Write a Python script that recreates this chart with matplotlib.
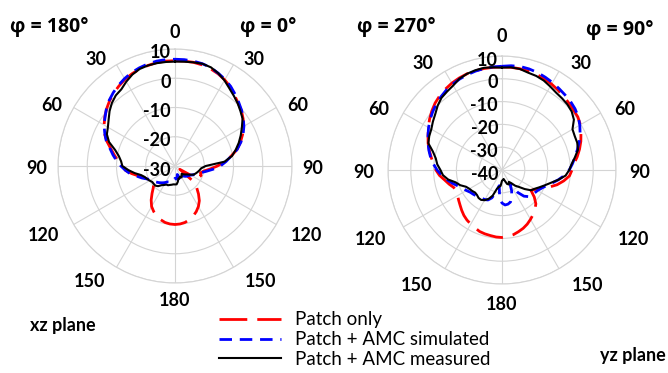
import numpy as np
import matplotlib.pyplot as plt

plt.rcParams['font.family'] = ['Lato', 'DejaVu Sans']

# pattern angle, clockwise from broadside (0-180 on the right, 180-360 on the left)
angles = np.arange(0, 360, 5)

# xz plane, gain in dB (right: phi = 0, left: phi = 180)
xz_patch = [6.0, 6.0, 6.0, 5.8, 5.4, 4.8, 4.0, 3.0, 1.6, 0.5, -0.4, -1.6, -2.8, -4.5,
            -6.2, -8.0, -10.5, -13.0, -15.5, -18.0, -20.0, -21.0, -20.5, -21.0, -22.5,
            -28.0, -22.0, -19.5, -17.5, -15.5, -14.0, -12.8, -11.8, -11.0, -10.4, -10.1,
            -10.0, -10.1, -10.4, -11.0, -11.8, -12.8, -14.0, -15.8, -17.8, -19.5, -20.5,
            -20.5, -20.0, -19.5, -18.5, -17.0, -15.0, -13.0, -12.0, -10.5, -9.0, -7.3,
            -5.2, -3.3, -2.0, -0.7, 0.5, 1.6, 2.6, 3.4, 4.2, 4.8, 5.3, 5.6, 5.9, 6.0]
xz_amc_sim = [6.5, 6.5, 6.4, 6.2, 5.8, 5.0, 4.2, 3.2, 2.0, 0.8, -0.3, -1.5, -2.8, -4.3,
              -6.0, -8.0, -10.5, -12.5, -14.5, -17.0, -19.3, -21.0, -22.0, -23.0, -23.8,
              -24.3, -24.6, -25.0, -25.5, -26.0, -25.5, -24.5, -25.5, -27.0, -26.0, -25.5,
              -25.8, -25.0, -24.5, -24.2, -24.2, -24.0, -23.5, -23.0, -22.5, -22.0, -21.5,
              -21.2, -20.5, -19.5, -18.0, -16.5, -14.5, -13.0, -11.5, -10.0, -8.5, -7.0,
              -5.0, -3.5, -2.0, -0.8, 0.6, 1.8, 2.8, 3.7, 4.5, 5.2, 5.7, 6.1, 6.4, 6.5]
xz_amc_meas = [5.7, 5.8, 6.0, 6.2, 5.9, 5.0, 3.8, 2.4, 1.3, 0.3, -0.8, -1.8, -3.6, -5.2,
               -6.8, -8.5, -10.2, -13.0, -19.5, -21.0, -21.5, -22.0, -22.5, -23.0, -24.0,
               -25.0, -25.5, -26.0, -26.5, -26.0, -25.5, -26.0, -25.5, -25.5, -24.5, -23.7,
               -23.7, -23.7, -23.5, -23.3, -23.0, -23.0, -22.5, -22.0, -21.0, -20.5, -20.5,
               -20.5, -20.0, -19.5, -19.0, -18.0, -16.0, -14.0, -12.0, -11.5, -10.5, -8.8,
               -6.0, -4.3, -3.5, -2.3, -0.8, 0.5, 1.5, 2.0, 3.3, 4.5, 5.3, 5.6, 5.7, 5.7]

# yz plane, gain in dB (right: phi = 90, left: phi = 270)
yz_patch = [5.2, 5.2, 5.1, 4.9, 4.6, 4.1, 3.5, 2.8, 2.1, 1.5, 0.9, 0.6, -0.3, -1.8,
            -3.2, -4.8, -6.5, -8.3, -9.3, -10.3, -12.5, -15.0, -18.0, -21.0, -23.0,
            -24.5, -21.5, -19.0, -17.5, -16.2, -15.0, -13.8, -12.8, -12.0, -11.2, -10.7,
            -10.4, -10.5, -10.8, -11.0, -11.3, -12.0, -12.6, -13.2, -14.0, -15.0, -16.0,
            -16.8, -17.5, -18.0, -17.5, -16.0, -14.5, -12.5, -11.0, -9.8, -8.5, -7.0,
            -5.5, -4.2, -2.7, -1.2, 0.2, 1.5, 2.5, 3.3, 4.0, 4.5, 4.9, 5.1, 5.2, 5.2]
yz_amc_sim = [5.5, 5.9, 6.1, 5.9, 5.5, 4.9, 4.3, 3.6, 3.0, 2.5, 1.8, 0.8, -0.6, -2.2,
              -4.0, -5.8, -7.5, -9.0, -10.5, -12.5, -15.0, -17.5, -19.5, -21.0, -22.0,
              -22.5, -23.0, -23.5, -25.0, -28.0, -33.0, -30.0, -27.5, -25.5, -24.8, -24.6,
              -25.5, -28.0, -33.0, -30.0, -27.0, -25.5, -25.0, -24.8, -24.5, -24.0, -23.5,
              -23.0, -22.0, -21.0, -19.5, -17.5, -15.5, -13.5, -11.5, -9.8, -8.2, -6.8,
              -5.5, -4.2, -2.8, -1.5, -0.3, 0.8, 1.8, 2.7, 3.4, 4.0, 4.5, 4.9, 5.2, 5.4]
yz_amc_meas = [4.9, 5.2, 5.0, 4.2, 3.9, 3.3, 2.3, 1.4, 1.0, 0.6, -0.1, -1.5, -4.3, -4.8,
               -4.9, -5.5, -7.5, -9.3, -10.5, -12.0, -15.0, -18.0, -20.2, -22.0, -23.5,
               -24.5, -27.0, -29.5, -31.0, -33.0, -34.0, -33.0, -33.5, -35.0, -36.0, -35.6,
               -35.3, -33.0, -32.5, -31.5, -28.0, -26.0, -24.7, -24.0, -24.0, -24.5, -24.6,
               -24.0, -23.5, -22.6, -20.5, -19.0, -16.0, -14.0, -13.0, -11.5, -10.5, -8.6,
               -5.6, -4.8, -4.2, -3.0, -1.8, -0.1, 1.3, 2.0, 2.8, 4.2, 4.9, 5.3, 5.5, 5.2]

tick_names = ['0', '30', '60', '90', '120', '150', '180']
legend_names = ['Patch only', 'Patch + AMC simulated', 'Patch + AMC measured']

# label placement around the dial: (angle from top in deg, distance from centre in px)
label_pos = [(0, 134), (36.5, 133), (64, 137), (91, 138), (118, 149), (143.5, 144), (180, 134)]

fig = plt.figure(figsize=(6.68, 3.73), dpi=100)
W, H = 668, 373


def closed(a):
    return np.append(a, a[0])


def dial(box, rmin, series):
    ax = fig.add_axes(box, projection='polar')
    ax.set_theta_zero_location('N')
    ax.set_theta_direction(-1)
    th = np.deg2rad(closed(angles))
    lines = []
    lines += ax.plot(th, closed(series[0]), color='#ff0000', lw=2, dashes=(10, 3.6))
    lines += ax.plot(th, closed(series[1]), color='#0000ff', lw=2, dashes=(4.5, 2.8))
    lines += ax.plot(th, closed(series[2]), color='black', lw=1.5)
    ax.set_ylim(rmin, 10)
    rings = list(range(rmin, 11, 10))
    ax.set_rticks(rings)
    ax.set_yticklabels([])
    ax.set_thetagrids(range(0, 360, 30), labels=[])
    ax.grid(color='#d4d4d4', lw=0.8)
    ax.spines['polar'].set_color('#d4d4d4')
    ax.spines['polar'].set_linewidth(0.8)
    for v in rings:
        ax.annotate(str(v), xy=(0, v), xytext=(-4, -4), textcoords='offset pixels',
                    ha='right', va='center', fontsize=13, fontweight='bold')
    for name, (a, d) in zip(tick_names, label_pos):
        for s in ([1, -1] if name not in ('0', '180') else [1]):
            dx = s * d * np.sin(np.deg2rad(a))
            dy = d * np.cos(np.deg2rad(a))
            ax.annotate(name, xy=(0, rmin), xytext=(dx, dy), textcoords='offset pixels',
                        ha='center', va='center', fontsize=13, fontweight='bold')
    return lines


lines = dial([58 / W, 1 - 283 / H, 234 / W, 234 / H], -30, [xz_patch, xz_amc_sim, xz_amc_meas])
dial([388 / W, 1 - 284 / H, 228 / W, 228 / H], -40, [yz_patch, yz_amc_sim, yz_amc_meas])

bold = dict(fontsize=13, fontweight='bold', va='center')
phi = dict(bold, fontsize=14, family=['Open Sans', 'DejaVu Sans'])
fig.text(10 / W, 1 - 27 / H, 'φ = 180°', **phi)
fig.text(240 / W, 1 - 27 / H, 'φ = 0°', **phi)
fig.text(357 / W, 1 - 27 / H, 'φ = 270°', **phi)
fig.text(586 / W, 1 - 30 / H, 'φ = 90°', **phi)
fig.text(30 / W, 1 - 325 / H, 'xz plane', **bold)
fig.text(600 / W, 1 - 355 / H, 'yz plane', **bold)

fig.legend(lines, legend_names, loc='upper left', bbox_to_anchor=(210 / W, 1 - 302 / H),
           frameon=False, fontsize=13.5, handlelength=3.3, handletextpad=0.75,
           labelspacing=0.15, borderpad=0)

fig.savefig('out.png', dpi=100, facecolor='white')
